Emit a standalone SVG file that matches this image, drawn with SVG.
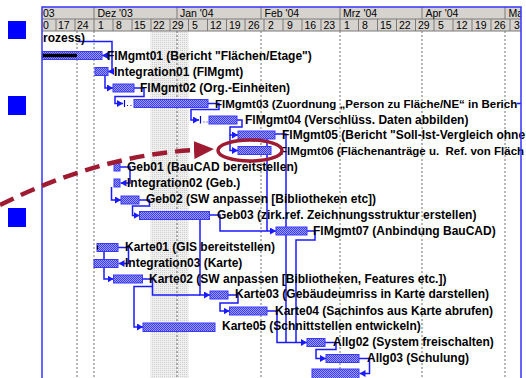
<svg xmlns="http://www.w3.org/2000/svg" width="526" height="378" viewBox="0 0 526 378">
  <style>
    .tx { font-family: "Liberation Sans", Arial, sans-serif; font-weight: bold; font-size: 12px; fill: #000; }
    .tx.fit { font-size: 11.5px; }
    .hd { font-family: "Liberation Sans", Arial, sans-serif; font-size: 10.5px; fill: #000; }
    .bar { fill: url(#hatch); stroke: #3a3aff; stroke-width: 1; }
    .lk { fill: none; stroke: #1a1aff; stroke-width: 1.5; }
    .ar { marker-end: url(#arr); }
    .grid { stroke: #6e6e6e; stroke-width: 1; stroke-dasharray: 2 2; }
    .sep { stroke: #7a7a7a; stroke-width: 1; }
    .bullet { fill: #0000ff; }
    .mark { fill: none; stroke: #9e1b32; }
  </style>
  <defs>
    <pattern id="hatch" width="2" height="2" patternUnits="userSpaceOnUse">
      <rect width="2" height="2" fill="#9a9aff"/>
      <rect width="1" height="1" fill="#3c3cf0"/>
      <rect x="1" y="1" width="1" height="1" fill="#3c3cf0"/>
    </pattern>
    <pattern id="holiday" width="2" height="2" patternUnits="userSpaceOnUse">
      <rect width="2" height="2" fill="#efefef"/>
      <rect width="1" height="1" fill="#cfcfcf"/>
    </pattern>
    <marker id="arr" viewBox="0 0 6 7" refX="6" refY="3.5" markerWidth="6" markerHeight="7" markerUnits="userSpaceOnUse" orient="auto">
      <path d="M0,0 L6,3.5 L0,7 z" fill="#1a1aff"/>
    </marker>
    <marker id="redhead" viewBox="0 0 20 18" refX="2" refY="9" markerWidth="20" markerHeight="18" markerUnits="userSpaceOnUse" orient="auto">
      <path d="M0,0 L20,9 L0,18 z" fill="#9e1b32"/>
    </marker>
    <clipPath id="pane">
      <rect x="42" y="7" width="479" height="371"/>
    </clipPath>
  </defs>

  <rect width="526" height="378" fill="#ffffff"/>

  <!-- slide bullets -->
  <rect class="bullet" x="8" y="21" width="18" height="18"/>
  <rect class="bullet" x="8" y="96" width="18" height="19"/>
  <rect class="bullet" x="8" y="208" width="18" height="19"/>

  <g clip-path="url(#pane)">
    <!-- non-working period -->
    <rect x="150.5" y="31" width="38" height="347" fill="url(#holiday)"/>

    <!-- grid -->
    <g id="gridlines">
      <line class="grid" x1="77" y1="31" x2="77" y2="378"/>
      <line class="grid" x1="94" y1="31" x2="94" y2="378"/>
      <line class="grid" x1="177" y1="31" x2="177" y2="378"/>
      <line class="grid" x1="261" y1="31" x2="261" y2="378"/>
      <line class="grid" x1="340" y1="31" x2="340" y2="378"/>
      <line class="grid" x1="422" y1="31" x2="422" y2="378"/>
      <line class="grid" x1="505" y1="31" x2="505" y2="378"/>
    </g>

    <!-- timescale -->
    <g id="timescale">
      <rect x="42" y="7" width="479" height="24" fill="#d6d3ce"/>
      <line class="sep" x1="42" y1="19" x2="521" y2="19"/>
      <line class="sep" x1="42" y1="31" x2="521" y2="31"/>
      <g class="sep">
        <line x1="94" y1="7" x2="94" y2="19"/>
        <line x1="177" y1="7" x2="177" y2="19"/>
        <line x1="261" y1="7" x2="261" y2="19"/>
        <line x1="340" y1="7" x2="340" y2="19"/>
        <line x1="422" y1="7" x2="422" y2="19"/>
        <line x1="505" y1="7" x2="505" y2="19"/>
      </g>
      <text class="hd" x="43" y="17">03</text>
      <text class="hd" x="97.5" y="17">Dez '03</text>
      <text class="hd" x="180" y="17">Jan '04</text>
      <text class="hd" x="264.5" y="17">Feb '04</text>
      <text class="hd" x="343" y="17">Mrz '04</text>
      <text class="hd" x="425.5" y="17">Apr '04</text>
      <text class="hd" x="508.5" y="17">Ma</text>
      <g class="sep">
        <line x1="56" y1="19" x2="56" y2="31"/>
        <line x1="75" y1="19" x2="75" y2="31"/>
        <line x1="94" y1="19" x2="94" y2="31"/>
        <line x1="113" y1="19" x2="113" y2="31"/>
        <line x1="132" y1="19" x2="132" y2="31"/>
        <line x1="151" y1="19" x2="151" y2="31"/>
        <line x1="170" y1="19" x2="170" y2="31"/>
        <line x1="188.5" y1="19" x2="188.5" y2="31"/>
        <line x1="207.5" y1="19" x2="207.5" y2="31"/>
        <line x1="226.5" y1="19" x2="226.5" y2="31"/>
        <line x1="245" y1="19" x2="245" y2="31"/>
        <line x1="264" y1="19" x2="264" y2="31"/>
        <line x1="283" y1="19" x2="283" y2="31"/>
        <line x1="302" y1="19" x2="302" y2="31"/>
        <line x1="321" y1="19" x2="321" y2="31"/>
        <line x1="340" y1="19" x2="340" y2="31"/>
        <line x1="358.5" y1="19" x2="358.5" y2="31"/>
        <line x1="377.5" y1="19" x2="377.5" y2="31"/>
        <line x1="396.5" y1="19" x2="396.5" y2="31"/>
        <line x1="415.5" y1="19" x2="415.5" y2="31"/>
        <line x1="434" y1="19" x2="434" y2="31"/>
        <line x1="453" y1="19" x2="453" y2="31"/>
        <line x1="472" y1="19" x2="472" y2="31"/>
        <line x1="491" y1="19" x2="491" y2="31"/>
        <line x1="510" y1="19" x2="510" y2="31"/>
      </g>
      <g class="hd">
        <text x="43" y="29">0</text>
        <text x="58" y="29">17</text>
        <text x="77" y="29">24</text>
        <text x="98" y="29">1</text>
        <text x="116" y="29">8</text>
        <text x="134" y="29">15</text>
        <text x="153" y="29">22</text>
        <text x="172" y="29">29</text>
        <text x="192" y="29">5</text>
        <text x="210" y="29">12</text>
        <text x="229" y="29">19</text>
        <text x="248" y="29">26</text>
        <text x="268" y="29">2</text>
        <text x="287" y="29">9</text>
        <text x="304.5" y="29">16</text>
        <text x="323.5" y="29">23</text>
        <text x="344" y="29">1</text>
        <text x="362" y="29">8</text>
        <text x="380" y="29">15</text>
        <text x="399" y="29">22</text>
        <text x="418" y="29">29</text>
        <text x="438" y="29">5</text>
        <text x="456" y="29">12</text>
        <text x="475" y="29">19</text>
        <text x="494" y="29">26</text>
        <text x="514" y="29">3</text>
      </g>
    </g>
  </g>

  <!-- links between tasks -->
  <g id="links">
    <path class="lk" d="M78 41.5 H112 V71.5 H108"/>
    <path class="lk ar" d="M112 71.5 H108"/>
    <path class="lk ar" d="M112 55.5 H102"/>
    <path class="lk ar" d="M105 76 V88 H113"/>
    <path class="lk ar" d="M134 88 H144 V96.5 H115 V103.5 H123"/>
    <path class="lk ar" d="M208 103.5 H219 V109.5 H191 V120 H199"/>
    <path class="lk ar" d="M237 120 H242 V127 H230 V135 H238"/>
    <path class="lk ar" d="M230 135 V150.5 H238"/>
    <path class="lk" d="M275 134 H286 V342.5"/>
    <path class="lk" d="M267 137 V231"/>
    <path class="lk ar" d="M209.5 215 H220 V231 H276"/>
    <path class="lk" d="M307 231 H315 V240 H296 V342.5"/>
    <path class="lk ar" d="M200 219.5 V295 H210"/>
    <path class="lk" d="M142.5 279 H152.5 V295 H200"/>
    <path class="lk ar" d="M152.5 286.5 H134 V327 H143"/>
    <path class="lk ar" d="M228 295 H238 V303 H220 V311 H229.5"/>
    <path class="lk ar" d="M267 311 H277 V342.5 H307"/>
    <path class="lk ar" d="M325 342.5 H336 V349.5 H316 V358.5 H326"/>
    <path class="lk ar" d="M359 358.5 H369.5 V373.5 H359.5"/>
    <path class="lk ar" d="M120 167 H130 V183 H120.5"/>
    <path class="lk ar" d="M111.5 187 V200 H121"/>
    <path class="lk ar" d="M139 200 H149.5 V206 H132.5 V215.5 H139.5"/>
    <path class="lk ar" d="M118 247.5 H128.5 V263.5 H118.5"/>
    <path class="lk ar" d="M104 251.5 V279 H113.5"/>
  </g>

  <!-- tasks -->
  <g id="t-prozess"><text class="tx" x="43" y="42">rozess)</text></g>

  <g id="t-flmgmt01">
    <rect class="bar" x="42.5" y="51.5" width="59.5" height="8"/>
    <line x1="42.5" y1="55.5" x2="77" y2="55.5" stroke="#000" stroke-width="3.5"/>
    <text class="tx" x="107" y="59.5">FlMgmt01 (Bericht "Flächen/Etage")</text>
  </g>

  <g id="t-integration01">
    <rect class="bar" x="95" y="67.5" width="13" height="8"/>
    <text class="tx" x="114" y="75.5">Integration01 (FlMgmt)</text>
  </g>

  <g id="t-flmgmt02">
    <rect class="bar" x="113" y="84" width="21" height="8"/>
    <text class="tx" x="140" y="92">FlMgmt02 (Org.-Einheiten)</text>
  </g>

  <g id="t-flmgmt03">
    <line x1="124.5" y1="100" x2="124.5" y2="107" stroke="#0000c0" stroke-width="1.2"/>
    <rect x="127" y="105" width="1" height="1" fill="#0000c0"/>
    <rect x="130.5" y="105" width="1" height="1" fill="#0000c0"/>
    <rect class="bar" x="134" y="99.5" width="74" height="8"/>
    <text class="tx fit" x="215" y="107.5">FlMgmt03 (Zuordnung „Person zu Fläche/NE“ in Berich</text>
    <line x1="517" y1="103.5" x2="521" y2="103.5" stroke="#1a1aff" stroke-width="1.5"/>
  </g>

  <g id="t-flmgmt04">
    <line x1="200.5" y1="116" x2="200.5" y2="123.5" stroke="#0000c0" stroke-width="1.2"/>
    <rect x="203.5" y="121.5" width="1" height="1" fill="#0000c0"/>
    <rect x="206.5" y="121.5" width="1" height="1" fill="#0000c0"/>
    <rect class="bar" x="209" y="116" width="28" height="8"/>
    <text class="tx" x="245" y="124">FlMgmt04 (Verschlüss. Daten abbilden)</text>
  </g>

  <g id="t-flmgmt05">
    <rect class="bar" x="238" y="131" width="37" height="8"/>
    <text class="tx" x="282" y="139">FlMgmt05 (Bericht "Soll-Ist-Vergleich ohne</text>
  </g>

  <g id="t-flmgmt06">
    <rect class="bar" x="238" y="146.5" width="33" height="8"/>
    <text class="tx fit" x="280" y="154.5" xml:space="preserve">FlMgmt06 (Flächenanträge u.  Ref. von Fläch</text>
  </g>

  <g id="t-geb01">
    <rect class="bar" x="114" y="163" width="6" height="8"/>
    <text class="tx" x="127" y="171">Geb01 (BauCAD bereitstellen)</text>
  </g>

  <g id="t-integration02">
    <rect class="bar" x="114" y="179" width="6" height="8"/>
    <text class="tx" x="127" y="187">Integration02 (Geb.)</text>
  </g>

  <g id="t-geb02">
    <rect class="bar" x="121" y="196" width="18" height="8"/>
    <text class="tx" x="146" y="202.5">Geb02 (SW anpassen [Bibliotheken etc])</text>
  </g>

  <g id="t-geb03">
    <rect class="bar" x="139.5" y="211.5" width="70" height="8"/>
    <text class="tx" x="217" y="218.5">Geb03 (zirk.ref. Zeichnungsstruktur erstellen)</text>
  </g>

  <g id="t-flmgmt07">
    <rect class="bar" x="276" y="227" width="31" height="8"/>
    <text class="tx" x="313" y="235">FlMgmt07 (Anbindung BauCAD)</text>
  </g>

  <g id="t-karte01">
    <rect class="bar" x="97" y="243.5" width="21" height="8"/>
    <line x1="97.5" y1="245.5" x2="97.5" y2="249.5" stroke="#000" stroke-width="1.2"/>
    <text class="tx" x="125" y="250.5">Karte01 (GIS bereitstellen)</text>
  </g>

  <g id="t-integration03">
    <rect class="bar" x="94" y="259.5" width="24" height="8"/>
    <text class="tx" x="125" y="266.5">Integration03 (Karte)</text>
  </g>

  <g id="t-karte02">
    <rect class="bar" x="113.5" y="275" width="29" height="8"/>
    <text class="tx" x="149" y="282.5">Karte02 (SW anpassen [Bibliotheken, Features etc.])</text>
  </g>

  <g id="t-karte03">
    <rect class="bar" x="210" y="291" width="18" height="8"/>
    <text class="tx" x="235" y="298">Karte03 (Gebäudeumriss in Karte darstellen)</text>
  </g>

  <g id="t-karte04">
    <rect class="bar" x="229.5" y="307" width="37.5" height="8"/>
    <text class="tx" x="275" y="314.5">Karte04 (Sachinfos aus Karte abrufen)</text>
  </g>

  <g id="t-karte05">
    <rect class="bar" x="143" y="323" width="72" height="8.5"/>
    <text class="tx" x="222" y="330">Karte05 (Schnittstellen entwickeln)</text>
  </g>

  <g id="t-allg02">
    <rect class="bar" x="307" y="338.5" width="18" height="8"/>
    <text class="tx" x="333" y="345.5">Allg02 (System freischalten)</text>
  </g>

  <g id="t-allg03">
    <rect class="bar" x="326" y="354.5" width="33" height="8"/>
    <text class="tx" x="367" y="362">Allg03 (Schulung)</text>
  </g>

  <g id="t-allg04">
    <rect class="bar" x="312" y="369" width="47" height="10"/>
  </g>

  <!-- pane frame -->
  <path d="M42 378 V7 H521 V378" fill="none" stroke="#3434ff" stroke-width="1.5"/>

  <!-- highlight: dashed pointer and ring -->
  <g id="highlight">
    <path class="mark" d="M0 205 Q100 155 196 150" stroke-width="4.5" stroke-dasharray="15 8" marker-end="url(#redhead)"/>
    <ellipse class="mark" cx="250" cy="150.5" rx="32" ry="10.5" stroke-width="3.5"/>
  </g>
</svg>
